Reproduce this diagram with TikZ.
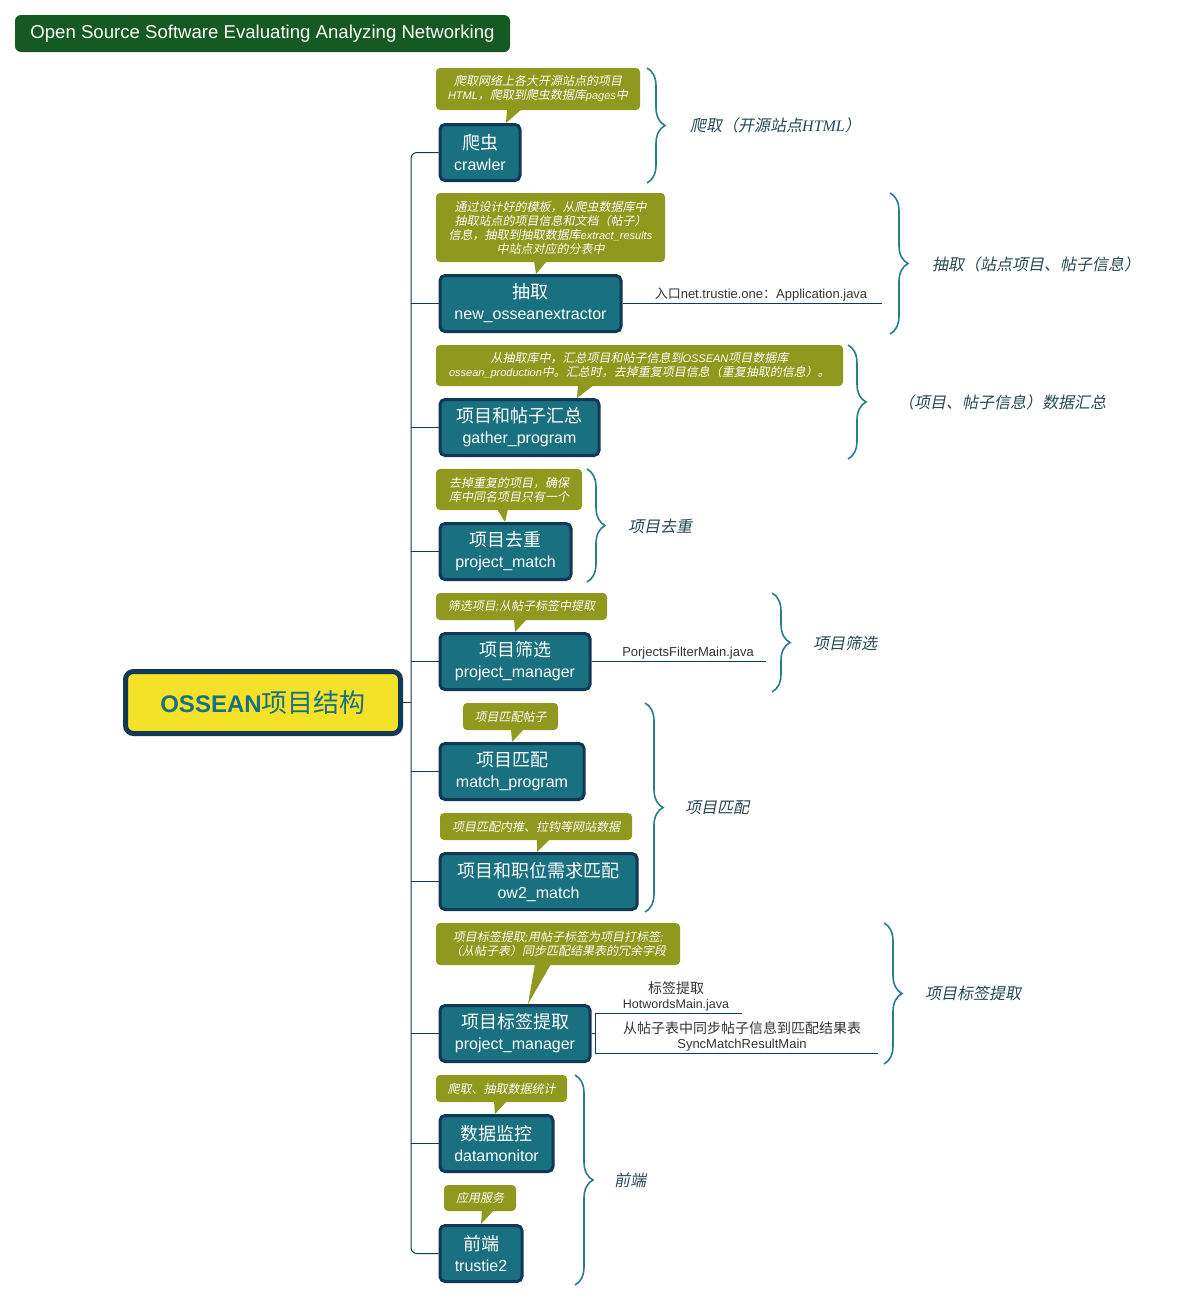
\documentclass[tikz,border=0pt]{standalone}
\usepackage{fontspec}
\setmainfont{Noto Sans CJK SC}[AutoFakeSlant=0.2]
\newfontfamily\lat{Liberation Sans}
\newfontfamily\latserif{Liberation Serif}
\usetikzlibrary{decorations.pathreplacing}
\definecolor{boxteal}{RGB}{25,112,128}
\definecolor{boxnavy}{RGB}{17,56,84}
\definecolor{noteolive}{RGB}{142,153,30}
\definecolor{titlegreen}{RGB}{20,90,34}
\definecolor{rootyellow}{RGB}{245,226,40}
\definecolor{braceteal}{RGB}{40,125,135}
\definecolor{labelslate}{RGB}{37,72,84}
\definecolor{annogray}{RGB}{51,51,51}
\newcommand{\twolines}[2]{{\fontsize{18}{21}\selectfont #1}\\{\lat #2}}
\newcommand{\nlat}[1]{{\lat\fontsize{11}{14}\selectfont #1}}
\begin{document}
\begin{tikzpicture}[x=1pt,y=-1pt,
    topic/.style={draw=boxnavy, line width=3pt, fill=boxteal, rounded corners=5pt,
      text=white, align=center, anchor=west, minimum height=56pt, inner sep=0pt,
      font=\fontsize{16}{21}\selectfont},
    note/.style={fill=noteolive, rounded corners=4pt, text=white, align=center,
      inner sep=0pt, font=\itshape\fontsize{12}{14}\selectfont},
    curly/.style={decorate, decoration={brace, amplitude=18pt}, draw=braceteal, line width=1.6pt},
    bracelabel/.style={anchor=west, text=labelslate, inner sep=0pt, font=\itshape\fontsize{16}{19}\selectfont},
    branch/.style={draw=boxnavy, line width=1pt},
    anno/.style={text=annogray, align=center, inner sep=2pt, font=\lat\fontsize{13}{15}\selectfont}]
  \useasboundingbox (0,0) rectangle (1177,1302);

  % title and root
  \node[fill=titlegreen, rounded corners=6pt, minimum width=495pt, minimum height=37pt,
    text=white, font=\lat\fontsize{18.6}{22}\selectfont] (title) at (262.5,33.5)
    {Open Source Software Evaluating Analyzing Networking};
  \node[draw=boxnavy, line width=5pt, fill=rootyellow, rounded corners=8pt, minimum width=275pt,
    minimum height=62pt, text=boxteal] (root) at (263,702.5)
    {{\lat\bfseries\fontsize{24}{28}\selectfont OSSEAN}{\fontsize{26}{30}\selectfont 项目结构}};

  % topics
  \node[topic, minimum width=80pt] (crawler) at (438.5,152.5) {\twolines{爬虫}{crawler}};
  \node[topic, minimum width=181pt] (extractor) at (438.5,303.5) {\twolines{抽取}{new\_osseanextractor}};
  \node[topic, minimum width=159pt] (gather) at (438.5,427.5) {\twolines{项目和帖子汇总}{gather\_program}};
  \node[topic, minimum width=131pt] (dedup) at (438.5,551.5) {\twolines{项目去重}{project\_match}};
  \node[topic, minimum width=150pt] (filter) at (438.5,661.5) {\twolines{项目筛选}{project\_manager}};
  \node[topic, minimum width=144pt] (matcher) at (438.5,771.5) {\twolines{项目匹配}{match\_program}};
  \node[topic, minimum width=197pt] (ow2) at (438.5,881.5) {\twolines{项目和职位需求匹配}{ow2\_match}};
  \node[topic, minimum width=150pt] (tagger) at (438.5,1033.5) {\twolines{项目标签提取}{project\_manager}};
  \node[topic, minimum width=113pt] (monitor) at (438.5,1143.5) {\twolines{数据监控}{datamonitor}};
  \node[topic, minimum width=82pt] (trustie) at (438.5,1253.5) {\twolines{前端}{trustie2}};

  % spine
  \coordinate (spine) at (411,0);
  \draw[branch] (root.east) -- (spine |- root.east);
  \draw[branch, rounded corners=6pt] (crawler.west) -- (spine |- crawler.west)
    -- (spine |- trustie.west) -- (trustie.west);
  \foreach \t in {extractor,gather,dedup,filter,matcher,ow2,tagger,monitor}
    \draw[branch] (spine |- \t.west) -- (\t.west);

  % notes
  \node[note, minimum width=204pt, minimum height=42pt] (crawlernote) at (538,89)
    {爬取网络上各大开源站点的项目\\\nlat{HTML}，爬取到爬虫数据库\nlat{pages}中};
  \fill[noteolive] (507,109) -- (522,109) -- (506,123) -- cycle;
  \node[note, minimum width=229pt, minimum height=69pt] (extractornote) at (550.5,227.5)
    {通过设计好的模板，从爬虫数据库中\\抽取站点的项目信息和文档（帖子）\\信息，抽取到抽取数据库\nlat{extract\_results}\\中站点对应的分表中};
  \fill[noteolive] (534,261) -- (547,261) -- (536,274) -- cycle;
  \node[note, minimum width=407pt, minimum height=41pt] (gathernote) at (639.5,365.5)
    {从抽取库中，汇总项目和帖子信息到\nlat{OSSEAN}项目数据库\\\nlat{ossean\_production}中。汇总时，去掉重复项目信息（重复抽取的信息）。};
  \fill[noteolive] (578,385) -- (594,385) -- (577,398) -- cycle;
  \node[note, minimum width=146pt, minimum height=41pt] (dedupnote) at (509,489.5)
    {去掉重复的项目，确保\\库中同名项目只有一个};
  \fill[noteolive] (497,509) -- (508,509) -- (505,522) -- cycle;
  \node[note, minimum width=171pt, minimum height=27pt] (filternote) at (521.5,606.5)
    {筛选项目\nlat{;}从帖子标签中提取};
  \fill[noteolive] (514,619) -- (527,619) -- (515,632) -- cycle;
  \node[note, minimum width=95pt, minimum height=27pt] (matchernote) at (510.5,716.5)
    {项目匹配帖子};
  \fill[noteolive] (511,729) -- (524,729) -- (512,742) -- cycle;
  \node[note, minimum width=192pt, minimum height=27pt] (ow2note) at (536,826.5)
    {项目匹配内推、拉钩等网站数据};
  \fill[noteolive] (537,839) -- (550,839) -- (537,852) -- cycle;
  \node[note, minimum width=244pt, minimum height=42pt] (taggernote) at (558,944)
    {项目标签提取\nlat{;}用帖子标签为项目打标签\nlat{;}\\（从帖子表）同步匹配结果表的冗余字段};
  \fill[noteolive] (535,964) -- (551,964) -- (528,1004) -- cycle;
  \node[note, minimum width=131pt, minimum height=27pt] (monitornote) at (501.5,1088.5)
    {爬取、抽取数据统计};
  \fill[noteolive] (494,1101) -- (507,1101) -- (495,1114) -- cycle;
  \node[note, minimum width=72pt, minimum height=26pt] (trustienote) at (480,1198)
    {应用服务};
  \fill[noteolive] (482,1210) -- (494,1210) -- (481,1224) -- cycle;

  % annotations
  \coordinate (extractorEnd) at (882,303.5);
  \draw[branch] (extractor.east) -- (extractorEnd);
  \node[anno, anchor=south] (entry) at (761,303.5)
    {{\fontspec{Noto Sans CJK SC}入口}net.trustie.one{\fontspec{Noto Sans CJK SC}：}Application.java};
  \coordinate (filterEnd) at (766,661.5);
  \draw[branch] (filter.east) -- (filterEnd);
  \node[anno, anchor=south] (filterjava) at (688,661.5) {PorjectsFilterMain.java};
  \coordinate (hotEnd) at (742,1013.5);
  \coordinate (syncEnd) at (878,1053.5);
  \draw[branch] (tagger.east) -- ++(4,0) |- (hotEnd);
  \draw[branch] (tagger.east) -- ++(4,0) |- (syncEnd);
  \node[anno, anchor=south, font=\fontsize{14}{15}\selectfont] (hotwords) at (676,1013.5)
    {标签提取\\{\lat\fontsize{12.5}{14}\selectfont HotwordsMain.java}};
  \node[anno, anchor=south, font=\fontsize{14}{15}\selectfont] (syncmatch) at (742,1053.5)
    {从帖子表中同步帖子信息到匹配结果表\\{\lat\fontsize{13}{14}\selectfont SyncMatchResultMain}};

  % braces
  \draw[curly] (647,68) -- (647,183);
  \node[bracelabel] (crawllabel) at (690,125) {爬取（开源站点{\latserif HTML}）};
  \draw[curly] (890,193) -- (890,334);
  \node[bracelabel] (extractlabel) at (932,264) {抽取（站点项目、帖子信息）};
  \draw[curly] (848,345) -- (848,459);
  \node[bracelabel] (gatherlabel) at (898,402) {（项目、帖子信息）数据汇总};
  \draw[curly] (587,469) -- (587,582);
  \node[bracelabel] (deduplabel) at (628,526) {项目去重};
  \draw[curly] (772,593) -- (772,692);
  \node[bracelabel] (filterlabel) at (813,643) {项目筛选};
  \draw[curly] (645,703) -- (645,912);
  \node[bracelabel] (matchlabel) at (685,808) {项目匹配};
  \draw[curly] (884,923) -- (884,1064);
  \node[bracelabel] (taglabel) at (925,993) {项目标签提取};
  \draw[curly] (575,1075) -- (575,1285);
  \node[bracelabel] (frontlabel) at (614,1180) {前端};
\end{tikzpicture}
\end{document}
